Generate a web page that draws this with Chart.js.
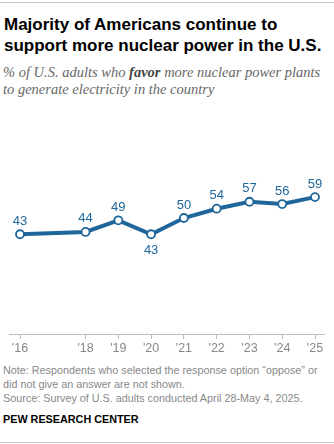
<!DOCTYPE html>
<html>
<head>
<meta charset="utf-8">
<script src="https://cdn.jsdelivr.net/npm/chart.js@4/dist/chart.umd.min.js"></script>
<style>
  html, body { margin: 0; padding: 0; background: #fff; }
  body { width: 334px; height: 444px; position: relative; overflow: hidden; font-family: "Liberation Sans", Arial, sans-serif; }
  .rule { position: absolute; left: 0; width: 334px; height: 1px; background: #c8c8c8; }
  .nw { white-space: nowrap; }
  #title { position: absolute; left: 4px; top: 14px; font-weight: bold; font-size: 17px; line-height: 21px; color: #000; }
  #subtitle { position: absolute; left: 3px; top: 64px; font-family: "Liberation Serif", "Times New Roman", serif; font-style: italic; font-size: 14.5px; line-height: 16.5px; color: #666; }
  #subtitle b { color: #444; }
  #chartBox { position: absolute; left: 0; top: 95px; width: 334px; height: 263px; }
  #note { position: absolute; left: 3px; top: 363px; font-size: 10.8px; line-height: 14px; color: #888; }
  #brand { position: absolute; left: 3px; top: 413px; font-size: 10.8px; font-weight: bold; color: #000; }
</style>
</head>
<body>
<div class="rule" style="top:2px"></div>
<div id="title" class="nw">Majority of Americans continue to<br>support more nuclear power in the U.S.</div>
<div id="subtitle" class="nw">% of U.S. adults who <b>favor</b> more nuclear power plants<br>to generate electricity in the country</div>
<div id="chartBox"><canvas id="c"></canvas></div>
<div id="note" class="nw">Note: Respondents who selected the response option “oppose” or<br>did not give an answer are not shown.<br>Source: Survey of U.S. adults conducted April 28-May 4, 2025.</div>
<div id="brand" class="nw">PEW RESEARCH CENTER</div>
<div class="rule" style="top:442px"></div>
<script>
// Survey years and share who favor more nuclear power plants (%)
const years = [2016, 2018, 2019, 2020, 2021, 2022, 2023, 2024, 2025];
const favor = [43, 44, 49, 43, 50, 54, 57, 56, 59];
const tickLabels = ["'16", "'18", "'19", "'20", "'21", "'22", "'23", "'24", "'25"];
// labels drawn under the point instead of above
const labelBelow = [false, false, false, true, false, false, false, false, false];

const BLUE = '#1f669b';

const valueLabels = {
  id: 'valueLabels',
  afterDatasetsDraw(chart) {
    const ctx = chart.ctx;
    const meta = chart.getDatasetMeta(0);
    ctx.save();
    ctx.font = '13px "Liberation Sans", Arial, sans-serif';
    ctx.fillStyle = BLUE;
    ctx.textAlign = 'center';
    ctx.textBaseline = 'middle';
    meta.data.forEach((pt, i) => {
      const dy = labelBelow[i] ? 16 : -13;
      ctx.fillText(String(favor[i]), pt.x, pt.y + dy);
    });
    ctx.restore();
  }
};

const axisLine = {
  id: 'axisLine',
  beforeDatasetsDraw(chart) {
    const { ctx, chartArea } = chart;
    const y = chart.scales.y.getPixelForValue(0);
    ctx.save();
    ctx.strokeStyle = '#bdbdbd';
    ctx.lineWidth = 1;
    ctx.beginPath();
    ctx.moveTo(chartArea.left - 11, Math.round(y) + 0.5);
    ctx.lineTo(chartArea.right + 10, Math.round(y) + 0.5);
    ctx.stroke();
    ctx.restore();
  }
};

new Chart(document.getElementById('c'), {
  type: 'line',
  data: {
    datasets: [{
      data: years.map((yr, i) => ({ x: yr, y: favor[i] })),
      borderColor: BLUE,
      borderWidth: 4,
      pointRadius: 4,
      pointBorderWidth: 1.8,
      pointBackgroundColor: '#fff',
      pointBorderColor: BLUE,
      tension: 0,
      clip: false
    }]
  },
  options: {
    responsive: true,
    maintainAspectRatio: false,
    animation: false,
    events: [],
    layout: { padding: { left: 20, right: 19, top: 7, bottom: 0 } },
    plugins: { legend: { display: false }, tooltip: { enabled: false } },
    scales: {
      x: {
        type: 'linear',
        min: 2016,
        max: 2025,
        afterBuildTicks(axis) { axis.ticks = years.map(v => ({ value: v })); },
        ticks: {
          autoSkip: false,
          maxRotation: 0,
          padding: 2,
          color: '#888',
          font: { size: 12.5, family: '"Liberation Sans", Arial, sans-serif' },
          callback(v) { return tickLabels[years.indexOf(v)]; }
        },
        grid: { drawOnChartArea: false, drawTicks: true, tickLength: 5, color: '#bdbdbd' },
        border: { display: false }
      },
      y: { display: false, min: 0, max: 100 }
    }
  },
  plugins: [axisLine, valueLabels]
});
</script>
</body>
</html>
